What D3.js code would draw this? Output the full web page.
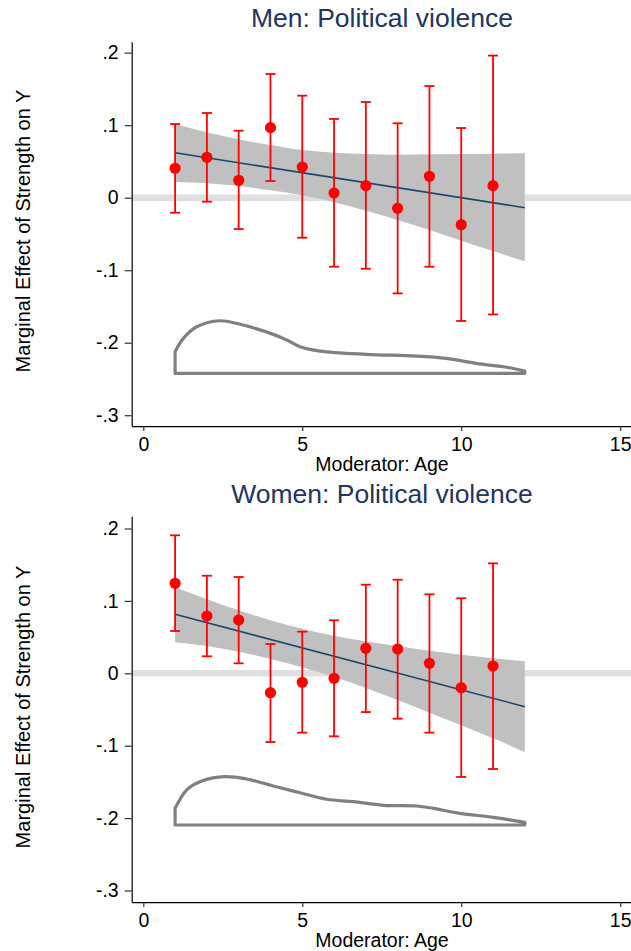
<!DOCTYPE html>
<html>
<head>
<meta charset="utf-8">
<script src="https://cdn.jsdelivr.net/npm/d3@7"></script>
<style>
  html, body { margin: 0; padding: 0; background: #fff; }
  svg { display: block; }
  text { font-family: "Liberation Sans", Arial, Helvetica, sans-serif; }
</style>
</head>
<body>
<svg id="chart" width="631" height="951"></svg>
<script>
// ---------------- DATA ----------------
const ages = [1, 2, 3, 4, 5, 6, 7, 8, 9, 10, 11];

const menEst = [0.0406, 0.0557, 0.0240, 0.0966, 0.0423, 0.0065, 0.0166, -0.0146, 0.0295, -0.0372, 0.0166];
const menHi  = [0.1016, 0.1168, 0.0924, 0.1706, 0.1407, 0.1086, 0.1320, 0.1026, 0.1540, 0.0961, 0.1960];
const menLo  = [-0.0207, -0.0055, -0.0432, 0.0230, -0.0552, -0.0952, -0.0980, -0.1320, -0.0952, -0.1700, -0.1610];

const womenEst = [0.1243, 0.0791, 0.0736, -0.0268, -0.0124, -0.0069, 0.0345, 0.0336, 0.0138, -0.0199, 0.0101];
const womenHi  = [0.1906, 0.1348, 0.1330, 0.0405, 0.0575, 0.0732, 0.1224, 0.1293, 0.1091, 0.1036, 0.1519];
const womenLo  = [0.0584, 0.0235, 0.0138, -0.0949, -0.0820, -0.0870, -0.0535, -0.0627, -0.0820, -0.1432, -0.1322];

const bandX = [1, 2, 3, 4, 5, 6, 7, 8, 9, 10, 11, 12];
const menBandHi = [0.1017, 0.0902, 0.0806, 0.0727, 0.0658, 0.0621, 0.0603, 0.0593, 0.0599, 0.0603, 0.0607, 0.0612];
const menBandLo = [0.0217, 0.0199, 0.0161, 0.0102, 0.0033, -0.0064, -0.0179, -0.0308, -0.0446, -0.0593, -0.0736, -0.0877];
const womenBandHi = [0.1188, 0.1022, 0.0870, 0.0732, 0.0616, 0.0519, 0.0442, 0.0377, 0.0312, 0.0257, 0.0207, 0.0166];
const womenBandLo = [0.0428, 0.0377, 0.0298, 0.0198, 0.0083, -0.0051, -0.0203, -0.0369, -0.0544, -0.0718, -0.0898, -0.1087];

const fitX = [1, 12];
const menFit = [0.0620, -0.0138];
const womenFit = [0.0815, -0.0461];

const menDensX = [1, 1.26, 1.68, 2.41, 3.14, 4.09, 4.51, 4.93, 5.56, 7.01, 8.58, 9.53, 10.47, 11.52, 12];
const menDensY = [-0.2124, -0.194, -0.178, -0.1697, -0.1756, -0.1885, -0.1963, -0.2055, -0.2115, -0.216, -0.2184, -0.2216, -0.2285, -0.2345, -0.239];
const menDensBase = -0.2422;

const womenDensX = [1, 1.36, 1.78, 2.57, 3.25, 4.09, 4.93, 5.77, 6.6, 7.55, 8.6, 9.12, 9.96, 11.01, 12];
const womenDensY = [-0.1865, -0.1612, -0.1497, -0.1428, -0.146, -0.1557, -0.1649, -0.174, -0.1773, -0.1823, -0.1833, -0.1865, -0.1934, -0.1989, -0.2058];
const womenDensBase = -0.2095;

const xTicks = [0, 5, 10, 15];
const yTicks = [0.2, 0.1, 0, -0.1, -0.2, -0.3];
const yTickLabels = [".2", ".1", "0", "-.1", "-.2", "-.3"];

const titles = ["Men: Political violence", "Women: Political violence"];
const xTitle = "Moderator: Age";
const yTitle = "Marginal Effect of Strength on Y";

// ---------------- DRAW ----------------
const svg = d3.select("#chart");
const FONT = 19.5;
const titleColor = "#22355e";

function panel(cfg) {
  const g = svg.append("g");
  const x = d3.scaleLinear().domain([-0.365, 15.34]).range([131.7, 631]);
  const y = d3.scaleLinear().domain(cfg.yDomain).range(cfg.yRange);
  const xAxisY = cfg.yRange[0];

  // zero reference line
  g.append("line")
    .attr("x1", x.range()[0]).attr("x2", x.range()[1])
    .attr("y1", y(0)).attr("y2", y(0))
    .attr("stroke", "#e0e0e0").attr("stroke-width", 6.5);

  // CI band
  const area = d3.area()
    .x((d, i) => x(bandX[i]))
    .y0((d, i) => y(cfg.bandLo[i]))
    .y1((d, i) => y(cfg.bandHi[i]))
    .curve(d3.curveMonotoneX);
  g.append("path").datum(bandX).attr("d", area).attr("fill", "#c0c0c0");

  // fitted line
  const line = d3.line().x((d, i) => x(fitX[i])).y((d, i) => y(cfg.fit[i]));
  g.append("path").datum(fitX).attr("d", line)
    .attr("fill", "none").attr("stroke", "#1a476f").attr("stroke-width", 1.6);

  // density outline
  const dx = cfg.densX, dy = cfg.densY, n = dx.length;
  const curve = d3.line().x((d, i) => x(dx[i])).y((d, i) => y(dy[i])).curve(d3.curveCatmullRom.alpha(0.5));
  const baseLine = d3.line().x(d => x(d[0])).y(d => y(d[1]));
  const basePts = [[dx[n - 1], dy[n - 1]], [dx[n - 1], cfg.densBase], [dx[0], cfg.densBase], [dx[0], dy[0]]];
  g.append("path").attr("d", curve(dx) + baseLine(basePts).replace("M", "L"))
    .attr("fill", "none").attr("stroke", "#808080").attr("stroke-width", 3.2)
    .attr("stroke-linejoin", "round").attr("stroke-linecap", "round");

  // error bars
  const eb = g.append("g").attr("stroke", "#ff0000").attr("stroke-width", 1.8);
  ages.forEach((a, i) => {
    const cx = x(a);
    eb.append("line").attr("x1", cx).attr("x2", cx).attr("y1", y(cfg.hi[i])).attr("y2", y(cfg.lo[i]));
    eb.append("line").attr("x1", cx - 5).attr("x2", cx + 5).attr("y1", y(cfg.hi[i])).attr("y2", y(cfg.hi[i]));
    eb.append("line").attr("x1", cx - 5).attr("x2", cx + 5).attr("y1", y(cfg.lo[i])).attr("y2", y(cfg.lo[i]));
  });
  // points
  g.append("g").selectAll("circle").data(ages).join("circle")
    .attr("cx", d => x(d)).attr("cy", (d, i) => y(cfg.est[i]))
    .attr("r", 5.6).attr("fill", "#ff0000");

  // y axis
  const yAxis = d3.axisLeft(y).tickValues(yTicks).tickSize(7).tickSizeOuter(0).tickPadding(6)
    .tickFormat((d, i) => yTickLabels[i]);
  const ya = g.append("g").attr("transform", `translate(${x.range()[0]},0)`).call(yAxis);
  ya.select(".domain").attr("stroke", "#000").attr("stroke-width", 1.2);
  ya.selectAll(".tick line").attr("stroke", "#333").attr("stroke-width", 1.2);
  ya.selectAll(".tick text").attr("font-size", FONT).attr("fill", "#000")
    .attr("font-family", '"Liberation Sans", Arial, sans-serif');

  // x axis
  const xAxis = d3.axisBottom(x).tickValues(xTicks).tickSize(5).tickSizeOuter(0).tickPadding(6)
    .tickFormat(d3.format("d"));
  const xa = g.append("g").attr("transform", `translate(0,${xAxisY})`).call(xAxis);
  xa.select(".domain").attr("stroke", "#000").attr("stroke-width", 1.2);
  xa.selectAll(".tick line").attr("stroke", "#333").attr("stroke-width", 1.2);
  xa.selectAll(".tick text").attr("font-size", FONT).attr("fill", "#000")
    .attr("font-family", '"Liberation Sans", Arial, sans-serif');

  // x title
  g.append("text").attr("x", 382).attr("y", xAxisY + 45)
    .attr("text-anchor", "middle").attr("font-size", FONT).attr("fill", "#000").text(xTitle);

  // y title
  g.append("text").attr("transform", `translate(30,${cfg.yLabelC}) rotate(-90)`)
    .attr("text-anchor", "middle").attr("font-size", 20).attr("fill", "#000").text(yTitle);

  // panel title
  g.append("text").attr("x", 382).attr("y", cfg.titleY)
    .attr("text-anchor", "middle").attr("font-size", 26.5).attr("fill", titleColor).text(cfg.title);
}

panel({
  title: titles[0], titleY: 26.7,
  yDomain: [-0.315, 0.215], yRange: [426.1, 41.8], yLabelC: 231,
  est: menEst, hi: menHi, lo: menLo,
  bandHi: menBandHi, bandLo: menBandLo, fit: menFit,
  densX: menDensX, densY: menDensY, densBase: menDensBase
});

panel({
  title: titles[1], titleY: 502.5,
  yDomain: [-0.316, 0.217], yRange: [902.1, 516.2], yLabelC: 707,
  est: womenEst, hi: womenHi, lo: womenLo,
  bandHi: womenBandHi, bandLo: womenBandLo, fit: womenFit,
  densX: womenDensX, densY: womenDensY, densBase: womenDensBase
});
</script>
</body>
</html>
